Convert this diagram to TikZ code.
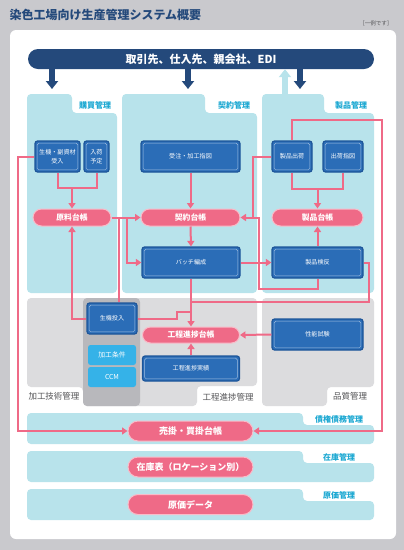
\documentclass[tikz,border=0pt]{standalone}
\usepackage{fontspec}
\setmainfont{Noto Sans CJK JP}
\usetikzlibrary{arrows.meta,shapes.misc}
\definecolor{bggray}{HTML}{C9C9CD}
\definecolor{navy}{HTML}{24497B}
\definecolor{panelcyan}{HTML}{B8E3EB}
\definecolor{labelcyan}{HTML}{1BA8D2}
\definecolor{panelgray}{HTML}{DCDCDE}
\definecolor{colgray}{HTML}{B8B8BC}
\definecolor{boxblue}{HTML}{2B6DB7}
\definecolor{boxedge}{HTML}{1D5599}
\definecolor{lightblue}{HTML}{35B2E8}
\definecolor{ledgerpink}{HTML}{EF6A87}
\definecolor{textgray}{HTML}{555558}
\begin{document}
\begin{tikzpicture}[x=1pt,y=-1pt,
  blk/.style={draw=boxedge,fill=boxblue,line width=1.2pt,rounded corners=2.5pt,text=white,align=center,
    inner sep=0pt,minimum height=31pt,font=\fontsize{6.1}{9}\selectfont,
    path picture={\draw[white!55!boxblue,line width=0.5pt,rounded corners=1.5pt]
      ([shift={(2.2pt,-2.2pt)}]path picture bounding box.north west) rectangle
      ([shift={(-2.2pt,2.2pt)}]path picture bounding box.south east);}},
  cond/.style={fill=lightblue,rounded corners=2.5pt,text=white,minimum width=48pt,minimum height=20pt,
    inner sep=0pt,font=\fontsize{6.8}{8}\selectfont},
  ledger/.style={rounded rectangle,fill=ledgerpink,draw=ledgerpink!45,line width=1pt,text=white,
    inner sep=0pt,font=\bfseries\fontsize{7.8}{9}\selectfont},
  bigledger/.style={ledger,minimum width=125pt,minimum height=20pt,font=\bfseries\fontsize{9}{10}\selectfont},
  link/.style={draw=ledgerpink,line width=2pt},
  arrowlink/.style={link,-{Triangle[width=7pt,length=5.5pt]}},
  feed/.style={draw=navy,line width=6pt,-{Triangle[width=12pt,length=8pt]}},
  paneltag/.style={text=labelcyan,font=\bfseries\fontsize{8}{9}\selectfont},
  areatag/.style={text=textgray,font=\fontsize{8.5}{10}\selectfont}]
\useasboundingbox (0,0) rectangle (404,550);
\fill[bggray] (0,0) rectangle (404,550);
\fill[white,rounded corners=6pt] (10,30) rectangle (396,539);
\node[anchor=west,text=navy,font=\bfseries\fontsize{12}{14}\selectfont] (title) at (6,15) {染色工場向け生産管理システム概要};
\node[anchor=east,text=textgray,font=\fontsize{5.5}{6}\selectfont] (note) at (396,23) {［一例です］};

\fill[panelcyan,rounded corners=4pt] (27,293) -- (27,94) -- (72,94) -- (72,113) -- (117,113) -- (117,293) -- cycle;
\fill[panelcyan,rounded corners=4pt] (122,293) -- (122,94) -- (205,94) -- (205,113) -- (257,113) -- (257,293) -- cycle;
\fill[panelcyan,rounded corners=4pt] (262,293) -- (262,94) -- (324,94) -- (324,113) -- (374,113) -- (374,293) -- cycle;
\fill[panelgray,rounded corners=4pt] (27,298) -- (257,298) -- (257,386) -- (197,386) -- (197,406) -- (83,406) -- (83,387) -- (27,387) -- cycle;
\fill[colgray,rounded corners=4pt] (83,298) rectangle (140,406);
\fill[panelgray,rounded corners=4pt] (262,298) -- (374,298) -- (374,387) -- (327,387) -- (327,406) -- (262,406) -- cycle;
\fill[panelcyan,rounded corners=4pt] (27,413) -- (303,413) -- (303,425) -- (374,425) -- (374,444) -- (27,444) -- cycle;
\fill[panelcyan,rounded corners=4pt] (27,451) -- (303,451) -- (303,463) -- (374,463) -- (374,482) -- (27,482) -- cycle;
\fill[panelcyan,rounded corners=4pt] (27,489) -- (303,489) -- (303,501) -- (374,501) -- (374,520) -- (27,520) -- cycle;

\node[paneltag] (buytag) at (95,105) {購買管理};
\node[paneltag] (contag) at (234,105) {契約管理};
\node[paneltag] (prodtag) at (351,105) {製品管理};
\node[areatag] (techtag) at (54,396) {加工技術管理};
\node[areatag] (progtag) at (228,397) {工程進捗管理};
\node[areatag] (qualtag) at (350,396) {品質管理};
\node[paneltag] (debttag) at (339,419) {債権債務管理};
\node[paneltag] (stocktag) at (339,457) {在庫管理};
\node[paneltag] (costtag) at (339,495) {原価管理};

\node[fill=navy,rounded rectangle,minimum width=346pt,minimum height=20pt,inner sep=0pt,text=white,
  font=\bfseries\fontsize{11}{12}\selectfont] (banner) at (201,59) {取引先、仕入先、親会社、EDI\hspace{14pt}};
\coordinate (buyin) at (52,89);
\coordinate (conin) at (188,89);
\coordinate (prodin) at (300,89);
\coordinate (prodout) at (285,94);
\draw[feed] (banner.south -| buyin) -- (buyin);
\draw[feed] (banner.south -| conin) -- (conin);
\draw[feed] (banner.south -| prodin) -- (prodin);
\draw[draw=panelcyan,line width=6pt,-{Triangle[width=12pt,length=8pt]}] (prodout) -- (banner.south -| prodout);

\node[blk,minimum width=45pt] (rawin) at (57.5,156.5) {生機・副資材\\受入};
\node[blk,minimum width=25pt] (arrival) at (96.5,156.5) {入荷\\予定};
\node[blk,minimum width=99pt] (order) at (190.5,156.5) {受注・加工指図};
\node[blk,minimum width=40pt] (ship) at (292,156.5) {製品出荷};
\node[blk,minimum width=40pt] (shipord) at (343,156.5) {出荷指図};
\node[ledger,minimum width=78pt,minimum height=17pt] (matled) at (72,217.5) {原料台帳};
\node[ledger,minimum width=99pt,minimum height=17pt] (conled) at (190.5,217.5) {契約台帳};
\node[ledger,minimum width=91pt,minimum height=17pt] (prodled) at (317.5,217.5) {製品台帳};
\node[blk,minimum width=98pt] (batch) at (191,262.5) {バッチ編成};
\node[blk,minimum width=91pt] (inspect) at (317.5,262.5) {製品検反};
\node[blk,minimum width=50pt] (grey) at (112,318.5) {生機投入};
\node[cond] (cond) at (112,355) {加工条件};
\node[cond] (ccm) at (112,377) {CCM};
\node[ledger,minimum width=97pt,minimum height=16pt] (progled) at (191,335) {工程進捗台帳};
\node[blk,minimum width=97pt,minimum height=25pt] (progres) at (191,368.5) {工程進捗実績};
\node[blk,minimum width=91pt] (perf) at (317.5,334.5) {性能試験};
\node[bigledger] (arap) at (190.5,431) {売掛・買掛台帳};
\node[bigledger] (stock) at (190.5,467) {在庫表（ロケーション別）};
\node[bigledger] (cost) at (190.5,504.5) {原価データ};

\coordinate (rawjoin) at (72,188);
\coordinate (shipjoin) at (317.5,189);
\coordinate (leftrail) at (18,300);
\coordinate (toprail) at (382,120);
\coordinate (shipback) at (253,217.5);
\coordinate (inspback) at (259,289);
\coordinate (batchfork) at (127,217.5);
\coordinate (greyup) at (119,217.5);
\coordinate (greystep) at (177,312);
\coordinate (greyjoin) at (191,312);
\coordinate (inspright) at (369,302);
\coordinate (inspjoin) at (191,302);

\draw[link] (rawin.south) |- (rawjoin) -| (arrival.south);
\draw[arrowlink] (rawjoin) -- (matled.north);
\draw[arrowlink] (rawin.west) -| (leftrail) |- (arap.west);
\draw[arrowlink] (ship.north) |- (toprail) |- (arap.east);
\draw[arrowlink] (ship.west) -| (shipback) -- (conled.east);
\draw[link] (inspect.south) |- (inspback) |- (shipback);
\draw[link] (ship.south) |- (shipjoin) -| (shipord.south);
\draw[arrowlink] (shipjoin) -- (prodled.north);
\draw[arrowlink] (inspect.north) -- (prodled.south);
\draw[arrowlink] (order.south) -- (conled.north);
\draw[arrowlink] (conled.south) -- (batch.north);
\draw[arrowlink] (batch.east) -- (inspect.west);
\draw[arrowlink] (matled.east) -- (conled.west);
\draw[arrowlink] (batchfork) |- (batch.west);
\draw[link] (greyup |- grey.north) -- (greyup);
\draw[arrowlink] (grey.west) -| (matled.south);
\draw[link] (grey.east) -| (greystep) -- (greyjoin);
\draw[arrowlink] (batch.south) -- (progled.north);
\draw[link] (inspect.east) -| (inspright) -- (inspjoin);
\draw[arrowlink] (progres.north) -- (progled.south);
\draw[arrowlink] (perf.west) -- (progled.east);
\end{tikzpicture}
\end{document}
